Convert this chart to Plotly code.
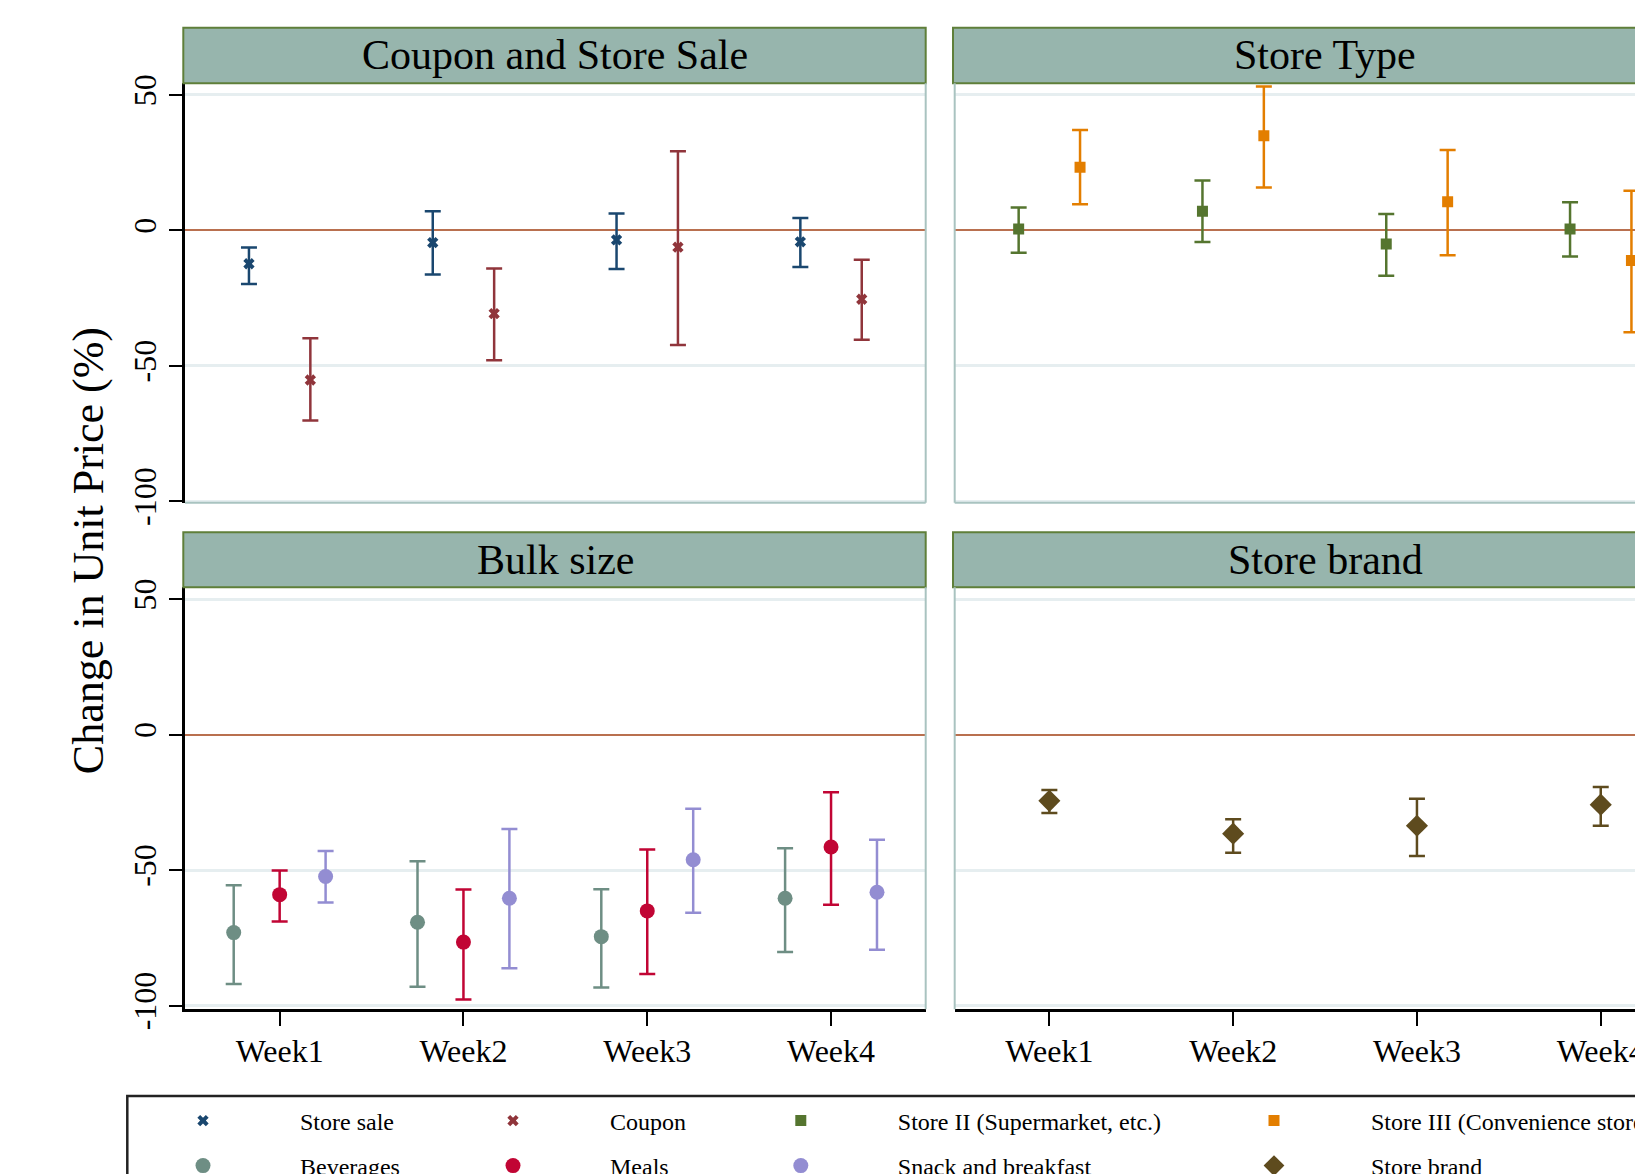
import plotly.graph_objects as go

# ---- data: point estimates and 95% confidence bounds, change in unit price (%) ----
weeks = [1, 2, 3, 4]
week_labels = ["Week1", "Week2", "Week3", "Week4"]
y_ticks = [-100, -50, 0, 50]
y_tick_labels = ["-100", "-50", "0", "50"]

# Coupon and Store Sale
store_sale = [-12.3, -4.5, -3.5, -4.2]
store_sale_lo = [-19.8, -16.3, -14.2, -13.5]
store_sale_hi = [-6.3, 7.1, 6.2, 4.6]
coupon = [-55.2, -30.7, -6.2, -25.4]
coupon_lo = [-70.2, -47.9, -42.3, -40.4]
coupon_hi = [-39.8, -14.1, 29.2, -10.8]

# Store Type
store2 = [0.5, 7.1, -5.0, 0.5]
store2_lo = [-8.2, -4.3, -16.7, -9.6]
store2_hi = [8.5, 18.4, 6.1, 10.4]
store3 = [23.3, 34.9, 10.6, -11.1]
store3_lo = [9.7, 15.8, -9.2, -37.6]
store3_hi = [37.1, 53.1, 29.7, 14.6]

# Bulk size
beverages = [-73.0, -69.2, -74.5, -60.3]
beverages_lo = [-92.0, -93.0, -93.3, -80.2]
beverages_hi = [-55.5, -46.7, -57.0, -41.9]
meals = [-59.0, -76.5, -65.0, -41.4]
meals_lo = [-68.9, -97.7, -88.3, -62.7]
meals_hi = [-50.1, -57.1, -42.3, -21.2]
snack = [-52.3, -60.3, -46.1, -58.1]
snack_lo = [-61.9, -86.2, -65.7, -79.3]
snack_hi = [-42.9, -34.8, -27.3, -38.7]

# Store brand
store_brand = [-24.4, -36.5, -33.6, -25.8]
store_brand_lo = [-28.9, -43.5, -44.7, -33.6]
store_brand_hi = [-20.4, -31.2, -23.6, -19.3]

# ---- styling ----
W, H = 1635, 1174
FONT = "Liberation Serif"
HEADER_FILL = "#97b5ad"
HEADER_LINE = "#5f7f3a"
FRAME = "#a9c3c0"
GRID = "#e6eef0"
ZERO = "#b9704f"


def px(x):
    return x / W


def py(y):
    return 1 - y / H


fig = go.Figure()


def add_series(name, est, lo, hi, offset, color, symbol, size, axis, legend):
    xs = [w + offset for w in weeks]
    fig.add_trace(go.Scatter(
        x=xs, y=est, mode="markers", name=name, showlegend=True,
        marker=dict(color=color, symbol=symbol, size=size, line=dict(width=0)),
        error_y=dict(type="data", symmetric=False,
                     array=[h - e for h, e in zip(hi, est)],
                     arrayminus=[e - l for e, l in zip(est, lo)],
                     color=color, thickness=2.5, width=8),
        xaxis="x" + axis, yaxis="y" + axis, legend=legend,
    ))


add_series("Store sale", store_sale, store_sale_lo, store_sale_hi, -0.167,
           "#1a476f", "x", 10, "", "legend")
add_series("Coupon", coupon, coupon_lo, coupon_hi, 0.167,
           "#90353b", "x", 10, "", "legend2")
add_series("Store II (Supermarket, etc.)", store2, store2_lo, store2_hi, -0.167,
           "#55752f", "square", 11, "2", "legend3")
add_series("Store III (Convenience store)", store3, store3_lo, store3_hi, 0.167,
           "#e37e00", "square", 11, "2", "legend4")
add_series("Beverages", beverages, beverages_lo, beverages_hi, -0.25,
           "#6e8e84", "circle", 15, "3", "legend5")
add_series("Meals", meals, meals_lo, meals_hi, 0.0,
           "#c10534", "circle", 15, "3", "legend6")
add_series("Snack and breakfast", snack, snack_lo, snack_hi, 0.25,
           "#938dd2", "circle", 15, "3", "legend7")
add_series("Store brand", store_brand, store_brand_lo, store_brand_hi, 0.0,
           "#5e4b1e", "diamond", 17, "4", "legend8")

# panel geometry (pixels)
left_x = (185.0, 925.7)
right_x = (954.7, 1635.0)
top_y = (83.3, 502.7)
bot_y = (587.3, 1009.3)
x_range_left = [0.485, 4.515]
x_range_right = [0.485, 0.485 + (right_x[1] - right_x[0]) / ((left_x[1] - left_x[0]) / 4.03)]
y_range_top = [-100.5, 54.3]
y_range_bot = [-101.3, 54.4]

tick_font = dict(family=FONT, size=32, color="black")

base_y = dict(tickvals=y_ticks, showgrid=True, gridcolor=GRID, gridwidth=2.5,
              zeroline=True, zerolinecolor=ZERO, zerolinewidth=2, fixedrange=True)
base_x = dict(tickvals=weeks, ticktext=week_labels, showgrid=False, zeroline=False,
              fixedrange=True, ticklabeloverflow="allow")

layout = dict(
    width=W, height=H, showlegend=True,
    margin=dict(l=0, r=0, t=0, b=0, autoexpand=False),
    paper_bgcolor="white", plot_bgcolor="white",
    font=dict(family=FONT, color="black"),
    xaxis=dict(base_x, domain=[px(left_x[0]), px(left_x[1])], range=x_range_left,
               anchor="y", showticklabels=False, ticks="", showline=False),
    yaxis=dict(base_y, domain=[py(top_y[1]), py(top_y[0])], range=y_range_top,
               anchor="x", ticktext=y_tick_labels, tickangle=-90, tickfont=tick_font,
               ticks="outside", ticklen=13, tickwidth=2, tickcolor="black",
               showline=True, linecolor="black", linewidth=2.5, ticklabelstandoff=0),
    xaxis2=dict(base_x, domain=[px(right_x[0]), px(right_x[1])], range=x_range_right,
                anchor="y2", showticklabels=False, ticks="", showline=False),
    yaxis2=dict(base_y, domain=[py(top_y[1]), py(top_y[0])], range=y_range_top,
                anchor="x2", showticklabels=False, ticks="", showline=False),
    xaxis3=dict(base_x, domain=[px(left_x[0]), px(left_x[1])], range=x_range_left,
                anchor="y3", tickfont=tick_font, ticks="outside", ticklen=14,
                tickwidth=2, tickcolor="black", showline=True, linecolor="black",
                linewidth=2.5, ticklabelstandoff=-2),
    yaxis3=dict(base_y, domain=[py(bot_y[1]), py(bot_y[0])], range=y_range_bot,
                anchor="x3", ticktext=y_tick_labels, tickangle=-90, tickfont=tick_font,
                ticks="outside", ticklen=13, tickwidth=2, tickcolor="black",
                showline=True, linecolor="black", linewidth=2.5, ticklabelstandoff=0),
    xaxis4=dict(base_x, domain=[px(right_x[0]), px(right_x[1])], range=x_range_right,
                anchor="y4", tickfont=tick_font, ticks="outside", ticklen=14,
                tickwidth=2, tickcolor="black", showline=True, linecolor="black",
                linewidth=2.5, ticklabelstandoff=-2),
    yaxis4=dict(base_y, domain=[py(bot_y[1]), py(bot_y[0])], range=y_range_bot,
                anchor="x4", showticklabels=False, ticks="", showline=False),
)

# legend: one small legend per entry, laid out as a 4 x 2 grid inside a framed box
legend_cols = [203.0, 513.0, 800.8, 1274.0]   # symbol centres (px)
legend_rows = [1121.0, 1166.0]                # row centres (px)
ITEMW = 184
order = [(0, 0), (1, 0), (2, 0), (3, 0), (0, 1), (1, 1), (2, 1), (3, 1)]
for i, (c, r) in enumerate(order):
    key = "legend" if i == 0 else f"legend{i + 1}"
    layout[key] = dict(
        x=px(legend_cols[c] - (ITEMW + 10) / 2), xanchor="left",
        y=py(legend_rows[r]), yanchor="middle",
        bgcolor="rgba(0,0,0,0)", borderwidth=0, itemwidth=ITEMW,
        font=dict(family=FONT, size=24, color="black"),
        itemclick=False, itemdoubleclick=False, visible=True,
    )

fig.update_layout(**layout)

shapes = []
# strip headers
for (x0, x1) in (left_x, (right_x[0], 1700.0)):
    for (y0, y1) in ((27.7, 83.3), (532.3, 587.3)):
        shapes.append(dict(type="rect", xref="paper", yref="paper",
                           x0=px(x0 - 1.7), x1=px(x1), y0=py(y1), y1=py(y0),
                           fillcolor=HEADER_FILL, line=dict(color=HEADER_LINE, width=2),
                           layer="above"))
# light frame edges of the plot regions
for ax in ("", "3"):
    shapes.append(dict(type="line", xref=f"x{ax} domain", yref=f"y{ax} domain",
                       x0=1, x1=1, y0=0, y1=1, line=dict(color=FRAME, width=2)))
for ax in ("2", "4"):
    shapes.append(dict(type="line", xref=f"x{ax} domain", yref=f"y{ax} domain",
                       x0=0, x1=0, y0=0, y1=1, line=dict(color=FRAME, width=2)))
for ax in ("", "2"):
    shapes.append(dict(type="line", xref=f"x{ax} domain", yref=f"y{ax} domain",
                       x0=0, x1=1, y0=0, y1=0, line=dict(color=FRAME, width=2)))
# legend frame
shapes.append(dict(type="rect", xref="paper", yref="paper",
                   x0=px(127.3), x1=px(1720), y0=py(1260), y1=py(1096),
                   line=dict(color="#222222", width=2.5), fillcolor="rgba(0,0,0,0)"))
fig.update_layout(shapes=shapes)

annotations = [
    dict(text="Coupon and Store Sale", x=px((left_x[0] + left_x[1]) / 2), y=py(55.5)),
    dict(text="Store Type", x=px((right_x[0] + 1696) / 2), y=py(55.5)),
    dict(text="Bulk size", x=px((left_x[0] + left_x[1]) / 2), y=py(560)),
    dict(text="Store brand", x=px((right_x[0] + 1696) / 2), y=py(560)),
]
for a in annotations:
    a.update(xref="paper", yref="paper", showarrow=False, xanchor="center",
             yanchor="middle", font=dict(family=FONT, size=42, color="black"))
annotations.append(dict(text="Change in Unit Price (%)", xref="paper", yref="paper",
                        x=px(88.6), y=py(550.6), showarrow=False, textangle=-90,
                        xanchor="center", yanchor="middle",
                        font=dict(family=FONT, size=44, color="black")))
fig.update_layout(annotations=annotations)

fig.write_html("out.html")
